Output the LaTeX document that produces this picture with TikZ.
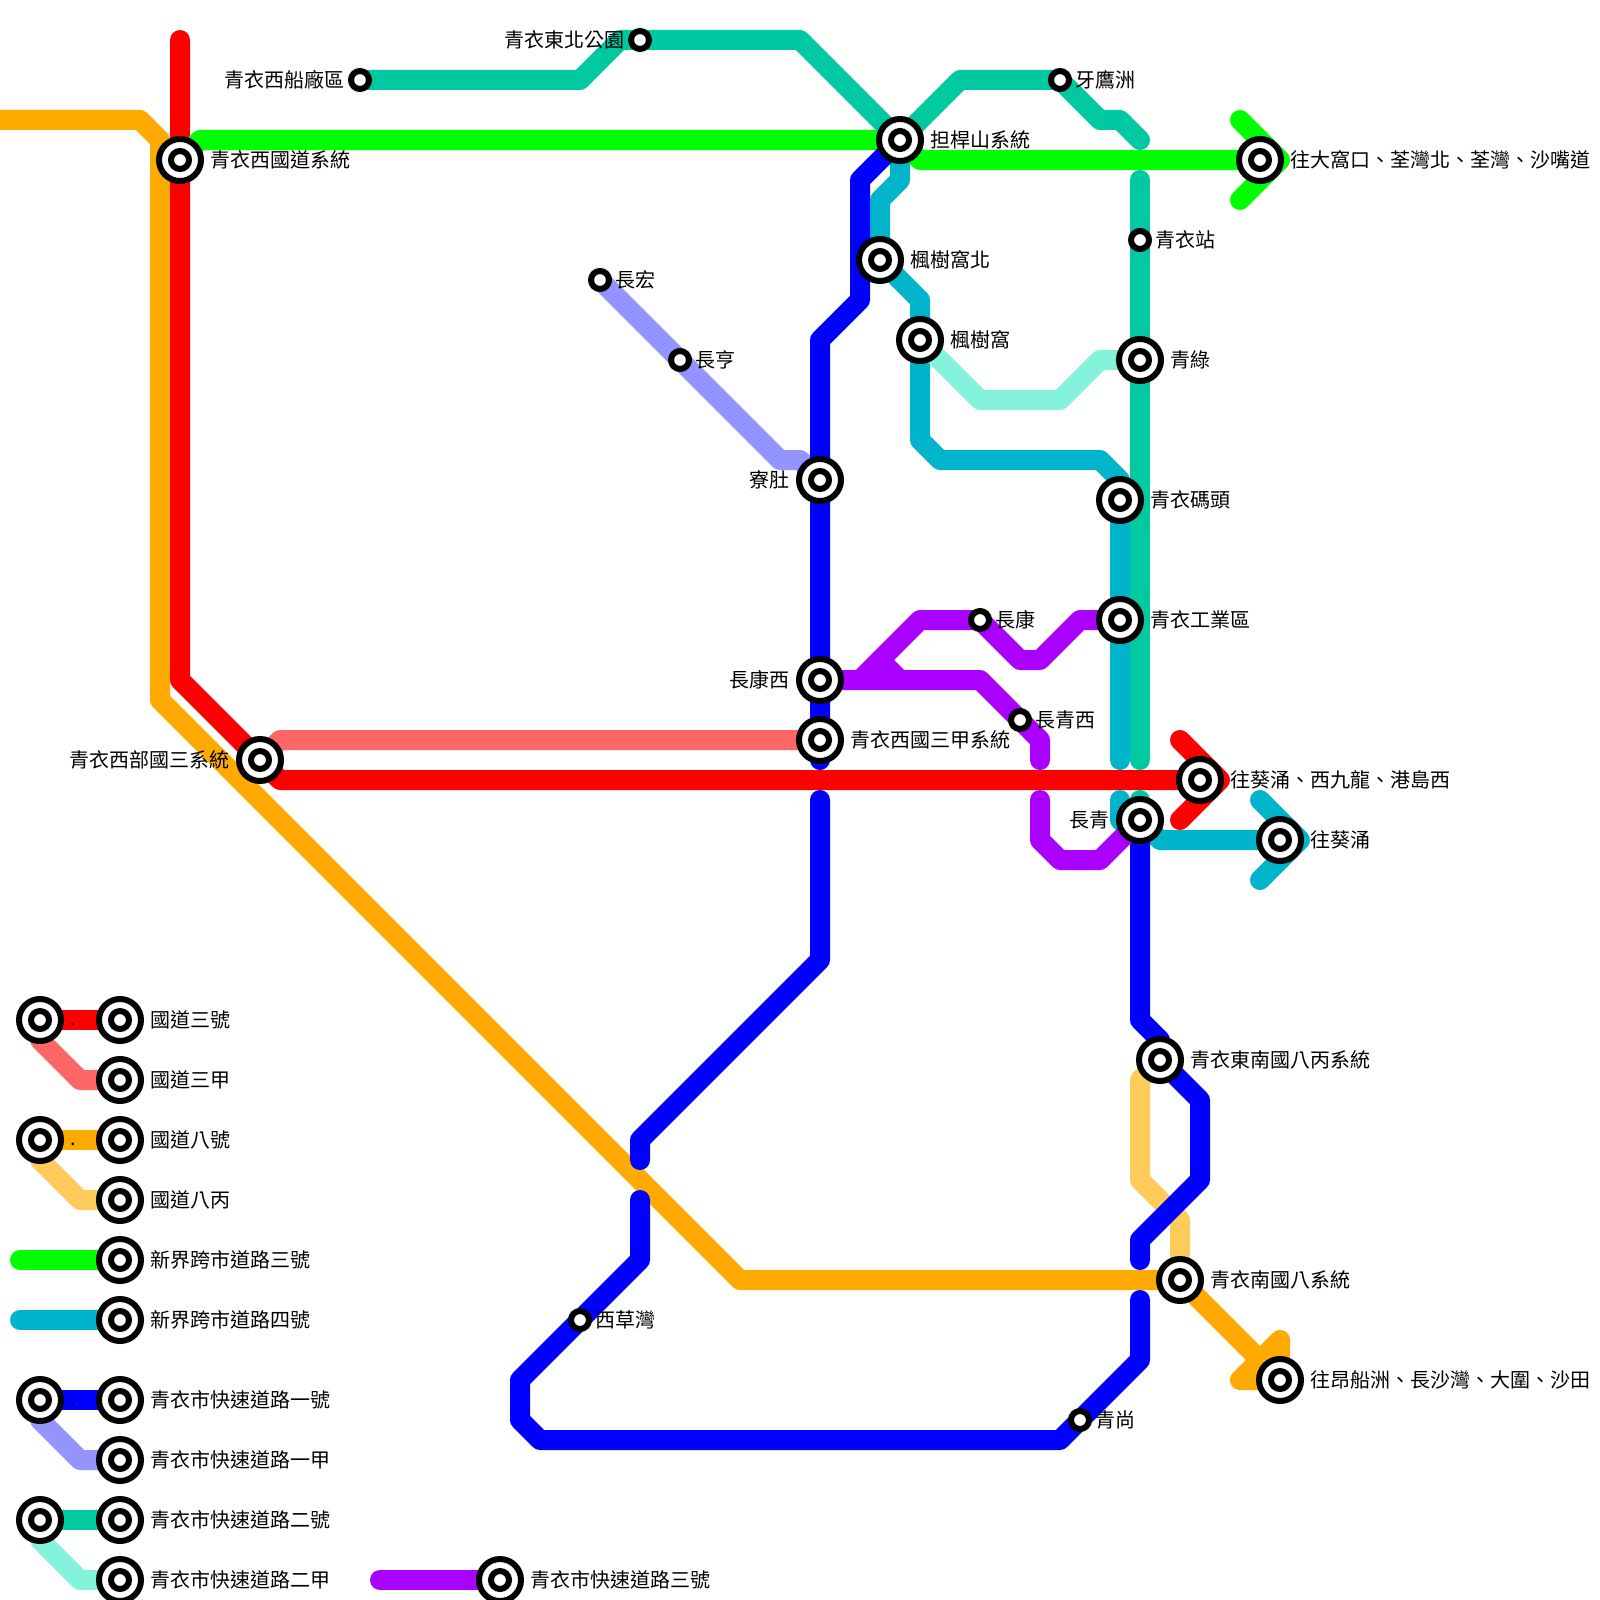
\documentclass[tikz,border=0pt]{standalone}
\usepackage{fontspec}
\setmainfont{Noto Sans CJK TC}
\usetikzlibrary{backgrounds}
\definecolor{roadred}{RGB}{255, 0, 0}
\definecolor{roadredb}{RGB}{255, 102, 102}
\definecolor{roadorange}{RGB}{255, 170, 0}
\definecolor{roadorangeb}{RGB}{255, 204, 92}
\definecolor{roadgreen}{RGB}{0, 255, 0}
\definecolor{roadteal}{RGB}{0, 180, 204}
\definecolor{roadblue}{RGB}{0, 0, 255}
\definecolor{roadblueb}{RGB}{148, 148, 255}
\definecolor{roadjade}{RGB}{0, 200, 160}
\definecolor{roadjadeb}{RGB}{133, 243, 220}
\definecolor{roadpurple}{RGB}{170, 0, 255}
\tikzset{
  road/.style={line width=20pt, line cap=round, line join=round},
  bigstn/.style={draw, circle, fill=white, line width=6pt, inner sep=0pt, minimum size=42pt,
    path picture={\draw[line width=6pt] (path picture bounding box.center) circle (9pt);}},
  smallstn/.style={draw, circle, fill=white, line width=6pt, inner sep=0pt, minimum size=18pt},
  lblr/.style={anchor=west, inner sep=0pt, font=\fontsize{20}{24}\selectfont, text height=17.6pt, text depth=2.4pt},
  lbll/.style={lblr, anchor=east},
  dotmark/.style={anchor=base, inner sep=0pt, font=\fontsize{20}{24}\selectfont}
}

\begin{document}
\begin{tikzpicture}[x=1pt, y=-1pt]
  \useasboundingbox (0,0) rectangle (1600,1600);

  % Interchanges
  \node[bigstn] (west) at (180,160) {};
  \node[bigstn] (westthree) at (260,760) {};
  \node[bigstn] (tamkon) at (900,140) {};
  \node[bigstn] (maple) at (880,260) {};
  \node[bigstn] (maples) at (920,340) {};
  \node[bigstn] (green) at (1140,360) {};
  \node[bigstn] (pier) at (1120,500) {};
  \node[bigstn] (works) at (1120,620) {};
  \node[bigstn] (liu) at (820,480) {};
  \node[bigstn] (hongw) at (820,680) {};
  \node[bigstn] (threea) at (820,740) {};
  \node[bigstn] (cheung) at (1140,820) {};
  \node[bigstn] (toeast) at (1200,780) {};
  \node[bigstn] (tokwai) at (1280,840) {};
  \node[bigstn] (tonorth) at (1260,160) {};
  \node[bigstn] (eightc) at (1160,1060) {};
  \node[bigstn] (eight) at (1180,1280) {};
  \node[bigstn] (tosouth) at (1280,1380) {};

  % Small stops
  \node[smallstn] (yard) at (360,80) {};
  \node[smallstn] (park) at (640,40) {};
  \node[smallstn] (ngau) at (1060,80) {};
  \node[smallstn] (station) at (1140,240) {};
  \node[smallstn] (wang) at (600,280) {};
  \node[smallstn] (hang) at (680,360) {};
  \node[smallstn] (hong) at (980,620) {};
  \node[smallstn] (chingw) at (1020,720) {};
  \node[smallstn] (bay) at (580,1320) {};
  \node[smallstn] (sheung) at (1080,1420) {};

  % Legend
  \node[bigstn] (keyAl) at (40,1020) {};
  \node[bigstn] (keyA) at (120,1020) {};
  \node[bigstn] (keyB) at (120,1080) {};
  \node[bigstn] (keyCl) at (40,1140) {};
  \node[bigstn] (keyC) at (120,1140) {};
  \node[bigstn] (keyD) at (120,1200) {};
  \node[bigstn] (keyE) at (120,1260) {};
  \node[bigstn] (keyF) at (120,1320) {};
  \node[bigstn] (keyGl) at (40,1400) {};
  \node[bigstn] (keyG) at (120,1400) {};
  \node[bigstn] (keyH) at (120,1460) {};
  \node[bigstn] (keyIl) at (40,1520) {};
  \node[bigstn] (keyI) at (120,1520) {};
  \node[bigstn] (keyJ) at (120,1580) {};
  \node[bigstn] (keyK) at (500,1580) {};

  % Free line ends
  \coordinate (redtop) at (180,40);
  \coordinate (orangeleft) at (0,120);
  \coordinate (jadegapa) at (1140,140);
  \coordinate (jadegapb) at (1140,180);
  \coordinate (jadegapc) at (1140,760);
  \coordinate (jadegapd) at (1140,800);
  \coordinate (tealgapa) at (1120,760);
  \coordinate (tealgapb) at (1120,800);
  \coordinate (bluegapa) at (820,760);
  \coordinate (bluegapb) at (820,800);
  \coordinate (bluegapc) at (640,1160);
  \coordinate (bluegapd) at (640,1200);
  \coordinate (bluegape) at (1140,1300);
  \coordinate (bluegapf) at (1140,1260);
  \coordinate (purpgapa) at (1040,760);
  \coordinate (purpgapb) at (1040,800);
  \coordinate (keyEl) at (20,1260);
  \coordinate (keyFl) at (20,1320);
  \coordinate (keyKl) at (380,1580);

  \begin{scope}[on background layer]
    % Route 8 and its spur
    \draw[road, roadorangeb] (eight.center) -- (1180,1220) -- (1140,1180) -- (1140,1080) -- (eightc.center);
    \draw[road, roadorange] (orangeleft) -- (140,120) -- (160,140) -- (160,700) -- (740,1280) -- (eight.center) -- (tosouth.center);
    \draw[road, roadorange] (1240,1380) -- (1280,1340) -- (tosouth.center) -- cycle;
    % Route 3 and its spur
    \draw[road, roadredb] (westthree.center) -- (280,740) -- (threea.center);
    \draw[road, roadred] (redtop) -- (180,680) -- (westthree.center) -- (280,780) -- (toeast.center);
    \draw[road, roadred] (1180,740) -- (1220,780) -- (1180,820);
    % Cross-territory routes
    \draw[road, roadteal] (tamkon.center) -- (900,180) -- (880,200) -- (maple.center) -- (920,300) -- (maples.center) -- (920,440) -- (940,460) -- (1100,460) -- (1120,480) -- (pier.center) -- (tealgapa);
    \draw[road, roadteal] (tealgapb) -- (1120,820) -- (1140,840);
    \draw[road, roadteal] (cheung.center) -- (1160,840) -- (tokwai.center);
    \draw[road, roadteal] (1260,800) -- (1300,840) -- (1260,880);
    \draw[road, roadgreen] (west.center) -- (200,140) -- (tamkon.center) -- (920,160) -- (tonorth.center);
    \draw[road, roadgreen] (1240,120) -- (1280,160) -- (1240,200);
    % Expressway 1
    \draw[road, roadblueb] (wang.center) -- (hang.center) -- (780,460) -- (800,460) -- (liu.center);
    \draw[road, roadblue] (tamkon.center) -- (860,180) -- (860,300) -- (820,340) -- (liu.center) -- (hongw.center) -- (threea.center) -- (bluegapa);
    \draw[road, roadblue] (bluegapb) -- (820,960) -- (640,1140) -- (bluegapc);
    \draw[road, roadblue] (bluegapd) -- (640,1260) -- (bay.center) -- (520,1380) -- (520,1420) -- (540,1440) -- (1060,1440) -- (sheung.center) -- (1140,1360) -- (bluegape);
    \draw[road, roadblue] (bluegapf) -- (1140,1240) -- (1200,1180) -- (1200,1100) -- (eightc.center) -- (1160,1040) -- (1140,1020) -- (cheung.center);
    % Expressway 2
    \draw[road, roadjadeb] (maples.center) -- (980,400) -- (1060,400) -- (1100,360) -- (green.center);
    \draw[road, roadjade] (yard.center) -- (580,80) -- (620,40) -- (park.center) -- (800,40) -- (tamkon.center) -- (960,80) -- (ngau.center) -- (1100,120) -- (1120,120) -- (jadegapa);
    \draw[road, roadjade] (jadegapb) -- (station.center) -- (green.center) -- (jadegapc);
    \draw[road, roadjade] (jadegapd) -- (cheung.center);
    % Expressway 3
    \draw[road, roadpurple] (hongw.center) -- (980,680) -- (chingw.center) -- (1040,740) -- (purpgapa);
    \draw[road, roadpurple] (purpgapb) -- (1040,840) -- (1060,860) -- (1100,860) -- (cheung.center);
    \draw[road, roadpurple] (860,680) -- (920,620) -- (hong.center) -- (1020,660) -- (1040,660) -- (1080,620) -- (works.center);
    \draw[road, roadpurple] (900,680) -- (880,660);
    % Legend lines
    \draw[road, roadredb] (keyAl.center) -- (40,1040) -- (80,1080) -- (keyB.center);
    \draw[road, roadred] (keyAl.center) -- (keyA.center);
    \draw[road, roadorangeb] (keyCl.center) -- (40,1160) -- (80,1200) -- (keyD.center);
    \draw[road, roadorange] (keyCl.center) -- (keyC.center);
    \draw[road, roadgreen] (keyEl) -- (keyE.center);
    \draw[road, roadteal] (keyFl) -- (keyF.center);
    \draw[road, roadblueb] (keyGl.center) -- (40,1420) -- (80,1460) -- (keyH.center);
    \draw[road, roadblue] (keyGl.center) -- (keyG.center);
    \draw[road, roadjadeb] (keyIl.center) -- (40,1540) -- (80,1580) -- (keyJ.center);
    \draw[road, roadjade] (keyIl.center) -- (keyI.center);
    \draw[road, roadpurple] (keyKl) -- (keyK.center);
  \end{scope}

  % Labels
  \node[lblr] (westt) at (210,160) {青衣西國道系統};
  \node[lbll] (westthreet) at (230,760) {青衣西部國三系統};
  \node[lblr] (tamkont) at (930,140) {担桿山系統};
  \node[lblr] (maplet) at (910,260) {楓樹窩北};
  \node[lblr] (maplest) at (950,340) {楓樹窩};
  \node[lblr] (greent) at (1170,360) {青綠};
  \node[lblr] (piert) at (1150,500) {青衣碼頭};
  \node[lblr] (workst) at (1150,620) {青衣工業區};
  \node[lbll] (liut) at (790,480) {寮肚};
  \node[lbll] (hongwt) at (790,680) {長康西};
  \node[lblr] (threeat) at (850,740) {青衣西國三甲系統};
  \node[lbll] (cheungt) at (1110,820) {長青};
  \node[lblr] (toeastt) at (1230,780) {往葵涌、西九龍、港島西};
  \node[lblr] (tokwait) at (1310,840) {往葵涌};
  \node[lblr] (tonortht) at (1290,160) {往大窩口、荃灣北、荃灣、沙嘴道};
  \node[lblr] (eightct) at (1190,1060) {青衣東南國八丙系統};
  \node[lblr] (eightt) at (1210,1280) {青衣南國八系統};
  \node[lblr] (tosoutht) at (1310,1380) {往昂船洲、長沙灣、大圍、沙田};
  \node[lbll] (yardt) at (345,80) {青衣西船廠區};
  \node[lbll] (parkt) at (625,40) {青衣東北公園};
  \node[lblr] (ngaut) at (1075,80) {牙鷹洲};
  \node[lblr] (stationt) at (1155,240) {青衣站};
  \node[lblr] (wangt) at (615,280) {長宏};
  \node[lblr] (hangt) at (695,360) {長亨};
  \node[lblr] (hongt) at (995,620) {長康};
  \node[lblr] (chingwt) at (1035,720) {長青西};
  \node[lblr] (bayt) at (595,1320) {西草灣};
  \node[lblr] (sheungt) at (1095,1420) {青尚};

  % Legend labels
  \node[lblr] (keyAt) at (150,1020) {國道三號};
  \node[lblr] (keyBt) at (150,1080) {國道三甲};
  \node[lblr] (keyCt) at (150,1140) {國道八號};
  \node[lblr] (keyDt) at (150,1200) {國道八丙};
  \node[lblr] (keyEt) at (150,1260) {新界跨市道路三號};
  \node[lblr] (keyFt) at (150,1320) {新界跨市道路四號};
  \node[lblr] (keyGt) at (150,1400) {青衣市快速道路一號};
  \node[lblr] (keyHt) at (150,1460) {青衣市快速道路一甲};
  \node[lblr] (keyIt) at (150,1520) {青衣市快速道路二號};
  \node[lblr] (keyJt) at (150,1580) {青衣市快速道路二甲};
  \node[lblr] (keyKt) at (530,1580) {青衣市快速道路三號};
  \node[dotmark] (keyAd) at (73,1025) {.};
  \node[dotmark] (keyCd) at (73,1145) {.};
  \node[dotmark] (keyGd) at (73,1405) {.};
\end{tikzpicture}
\end{document}
